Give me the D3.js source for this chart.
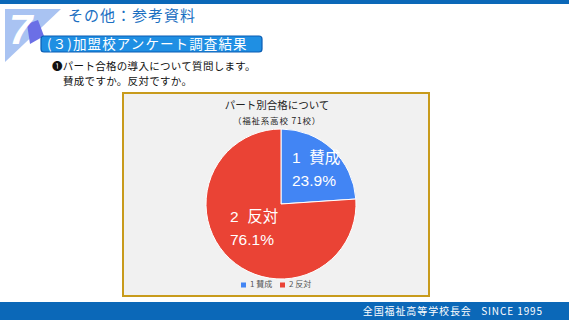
<!DOCTYPE html>
<html>
<head>
<meta charset="utf-8">
<script src="https://cdn.jsdelivr.net/npm/d3@7"></script>
<style>
  body { margin: 0; background: #fff; }
  svg { display: block; font-family: "Noto Sans CJK JP", "Noto Sans", sans-serif; }
</style>
</head>
<body>
<svg id="canvas" width="569" height="320"></svg>
<script>
// chart data
const categories = ["1 賛成", "2 反対"];
const counts = [17, 54];
const percentLabels = ["23.9%", "76.1%"];
const colors = ["#4285f4", "#ea4335"];

const svg = d3.select("#canvas");

// top bar
svg.append("rect").attr("x", 0).attr("y", 0).attr("width", 569).attr("height", 4).attr("fill", "#0b68b8");

// section badge
svg.append("path").attr("d", "M5,9 L61,9 L5,62 Z").attr("fill", "#a9c3f2");
svg.append("path").attr("d", "M27,24 L38,20 L44,36 L30,44 Z").attr("fill", "#6b6fe6");
svg.append("text")
    .attr("x", 9).attr("y", 44)
    .attr("fill", "#fff")
    .attr("font-size", 42)
    .attr("font-weight", "bold")
    .attr("font-style", "italic")
    .attr("font-family", "Liberation Sans, sans-serif")
    .text("7");

svg.append("text")
    .attr("x", 68).attr("y", 21)
    .attr("fill", "#1b6fc2")
    .attr("font-size", 15)
    .attr("letter-spacing", 1)
    .text("その他：参考資料");

// subtitle box
svg.append("rect")
    .attr("x", 41).attr("y", 36).attr("width", 221).attr("height", 16)
    .attr("rx", 3)
    .attr("fill", "#1f8fe3")
    .attr("stroke", "#0b5db3")
    .attr("stroke-width", 1.2);
svg.append("text")
    .attr("x", 47).attr("y", 49)
    .attr("fill", "#fff")
    .attr("font-size", 13.5)
    .attr("letter-spacing", 1.1)
    .text("(３)加盟校アンケート調査結果");

svg.append("text")
    .attr("x", 52).attr("y", 70)
    .attr("font-size", 10.5)
    .attr("letter-spacing", 0.3)
    .attr("fill", "#111")
    .text("❶パート合格の導入について質問します。");
svg.append("text")
    .attr("x", 63).attr("y", 85)
    .attr("font-size", 10.5)
    .attr("letter-spacing", 0.3)
    .attr("fill", "#111")
    .text("賛成ですか。反対ですか。");

// chart frame
svg.append("rect")
    .attr("x", 123).attr("y", 93).attr("width", 306).attr("height", 203)
    .attr("fill", "#f1f1f1")
    .attr("stroke", "#c89b1c")
    .attr("stroke-width", 2);

svg.append("text")
    .attr("x", 277).attr("y", 109)
    .attr("text-anchor", "middle")
    .attr("font-size", 10.5)
    .attr("fill", "#222")
    .text("パート別合格について");
svg.append("text")
    .attr("x", 277).attr("y", 124)
    .attr("text-anchor", "middle")
    .attr("font-size", 8.5)
    .attr("letter-spacing", 0.8)
    .attr("fill", "#222")
    .text("（福祉系高校\u00a071校）");

// pie
const cx = 281, cy = 204, radius = 75;
const pie = d3.pie().sort(null).value(d => d)(counts);
const arc = d3.arc().innerRadius(0).outerRadius(radius);

const g = svg.append("g").attr("transform", `translate(${cx},${cy})`);
g.selectAll("path.slice")
    .data(pie)
    .join("path")
    .attr("class", "slice")
    .attr("d", arc)
    .attr("fill", (d, i) => colors[i])
    .attr("stroke", "#fff")
    .attr("stroke-width", 1);

// slice labels
const labelPos = [[11, -41], [-51, 18]];
pie.forEach((d, i) => {
    const lbl = g.append("text")
        .attr("fill", "#fff")
        .attr("font-size", 15.5)
        .attr("font-family", "Liberation Sans, Noto Sans CJK JP, sans-serif");
    lbl.append("tspan").attr("x", labelPos[i][0]).attr("y", labelPos[i][1]).text(categories[i].replace(" ", "\u00a0\u00a0"));
    lbl.append("tspan").attr("x", labelPos[i][0]).attr("y", labelPos[i][1] + 23).text(percentLabels[i]);
});

// legend
const legend = svg.append("g").attr("transform", "translate(241,285)");
const legX = [0, 39];
categories.forEach((c, i) => {
    legend.append("rect")
        .attr("x", legX[i]).attr("y", -2.5).attr("width", 5).attr("height", 5)
        .attr("fill", colors[i]);
    legend.append("text")
        .attr("x", legX[i] + 9).attr("y", 0)
        .attr("dominant-baseline", "middle")
        .attr("font-size", 8)
        .attr("fill", "#555")
        .text(c.replace(" ", "\u00a0"));
});

// footer
svg.append("rect").attr("x", 0).attr("y", 302).attr("width", 569).attr("height", 18).attr("fill", "#0b68b8");
svg.append("text")
    .attr("x", 543).attr("y", 315)
    .attr("text-anchor", "end")
    .attr("font-size", 10)
    .attr("letter-spacing", 0.9)
    .attr("fill", "#fff")
    .text("全国福祉高等学校長会\u00a0\u00a0\u00a0SINCE\u00a01995");
</script>
</body>
</html>
